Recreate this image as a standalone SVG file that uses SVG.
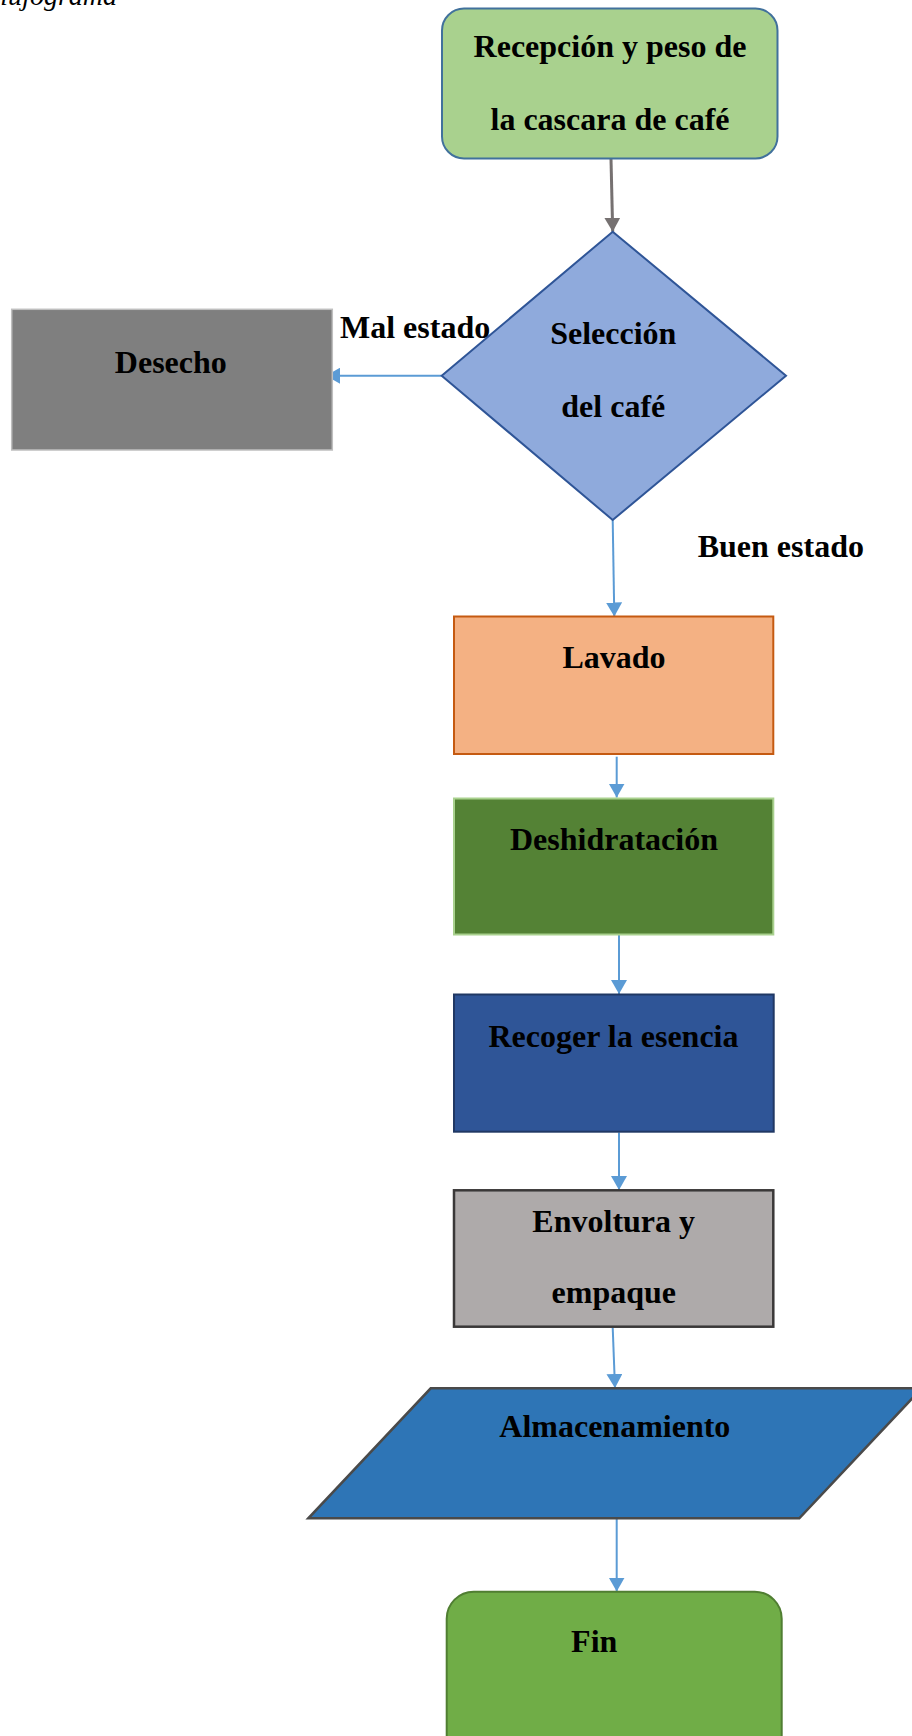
<svg xmlns="http://www.w3.org/2000/svg" width="912" height="1736" viewBox="0 0 912 1736">
<style>
  text { font-family: "Liberation Serif", "Times New Roman", serif; font-weight: bold; font-size: 32px; fill: #000; }
  .c { text-anchor: middle; }
  .title { font-style: italic; font-weight: normal; font-size: 28px; }
  .blue { stroke: #5B9BD5; stroke-width: 2; fill: none; marker-end: url(#ab); }
  .gray { stroke: #767171; stroke-width: 3; fill: none; marker-end: url(#ag); }
</style>
<defs>
  <marker id="ab" viewBox="0 0 14 16" refX="14" refY="8" markerWidth="14" markerHeight="16" markerUnits="userSpaceOnUse" orient="auto">
    <path d="M0,0 L14,8 L0,16 Z" fill="#5B9BD5"/>
  </marker>
  <marker id="ag" viewBox="0 0 14 16" refX="14" refY="8" markerWidth="14" markerHeight="16" markerUnits="userSpaceOnUse" orient="auto">
    <path d="M0,0 L14,8 L0,16 Z" fill="#767171"/>
  </marker>
</defs>
<rect width="912" height="1736" fill="#FFFFFF"/>
<text class="title" x="117" y="5" text-anchor="end">Flujograma</text>

<g id="connectors">
  <line class="gray" x1="611" y1="159" x2="612.7" y2="231.7"/>
  <line class="blue" x1="441.7" y1="375.7" x2="326" y2="375.7"/>
  <line class="blue" x1="612.7" y1="520" x2="614.3" y2="616.5"/>
  <line class="blue" x1="616.7" y1="756.7" x2="616.7" y2="797.5"/>
  <line class="blue" x1="619" y1="935" x2="619" y2="994"/>
  <line class="blue" x1="619" y1="1132.5" x2="619" y2="1190"/>
  <line class="blue" x1="612.7" y1="1327.5" x2="615" y2="1388"/>
  <line class="blue" x1="616.7" y1="1519" x2="616.7" y2="1591.5"/>
</g>

<g id="recepcion">
  <rect x="442" y="8.5" width="335.5" height="150" rx="22" ry="22" fill="#A9D18E" stroke="#41719C" stroke-width="2"/>
  <text class="c" x="610" y="56.7">Recepción y peso de</text>
  <text class="c" x="610" y="130">la cascara de café</text>
</g>

<g id="seleccion">
  <polygon points="612.7,231.7 786,375.7 612.7,520 441.7,375.7" fill="#8FAADC" stroke="#2F5597" stroke-width="2"/>
  <text class="c" x="613.3" y="344">Selección</text>
  <text class="c" x="613.3" y="416.7">del café</text>
</g>

<g id="desecho">
  <rect x="11.7" y="309.3" width="320.6" height="140.7" fill="#7F7F7F" stroke="#BFBFBF" stroke-width="1.5"/>
  <text class="c" x="170.8" y="373.3">Desecho</text>
</g>

<g id="label-mal">
  <text x="340" y="338.3">Mal estado</text>
</g>

<g id="label-buen">
  <text class="c" x="780.8" y="557.3">Buen estado</text>
</g>

<g id="lavado">
  <rect x="454" y="616.5" width="319.3" height="137.5" fill="#F4B183" stroke="#C55A11" stroke-width="2"/>
  <text class="c" x="614" y="668.3">Lavado</text>
</g>

<g id="deshidratacion">
  <rect x="454" y="798.5" width="319.3" height="136" fill="#548235" stroke="#A9D18E" stroke-width="2"/>
  <text class="c" x="614" y="850">Deshidratación</text>
</g>

<g id="recoger">
  <rect x="454" y="994.5" width="319.7" height="137.2" fill="#2F5597" stroke="#203864" stroke-width="2"/>
  <text class="c" x="613.5" y="1047.3">Recoger la esencia</text>
</g>

<g id="envoltura">
  <rect x="454" y="1190.3" width="319.3" height="136.4" fill="#AEAAAA" stroke="#3A3838" stroke-width="2.5"/>
  <text class="c" x="613.7" y="1231.7">Envoltura y</text>
  <text class="c" x="613.8" y="1303.3">empaque</text>
</g>

<g id="almacenamiento">
  <polygon points="430.7,1388.3 921.7,1388.3 799.3,1518.3 308.3,1518.3" fill="#2E75B6" stroke="#4A4A4A" stroke-width="2.5"/>
  <text class="c" x="614.8" y="1436.7">Almacenamiento</text>
</g>

<g id="fin">
  <rect x="446.7" y="1591.7" width="335" height="170" rx="27" ry="27" fill="#70AD47" stroke="#507E32" stroke-width="2"/>
  <text class="c" x="594.2" y="1651.7">Fin</text>
</g>
</svg>
